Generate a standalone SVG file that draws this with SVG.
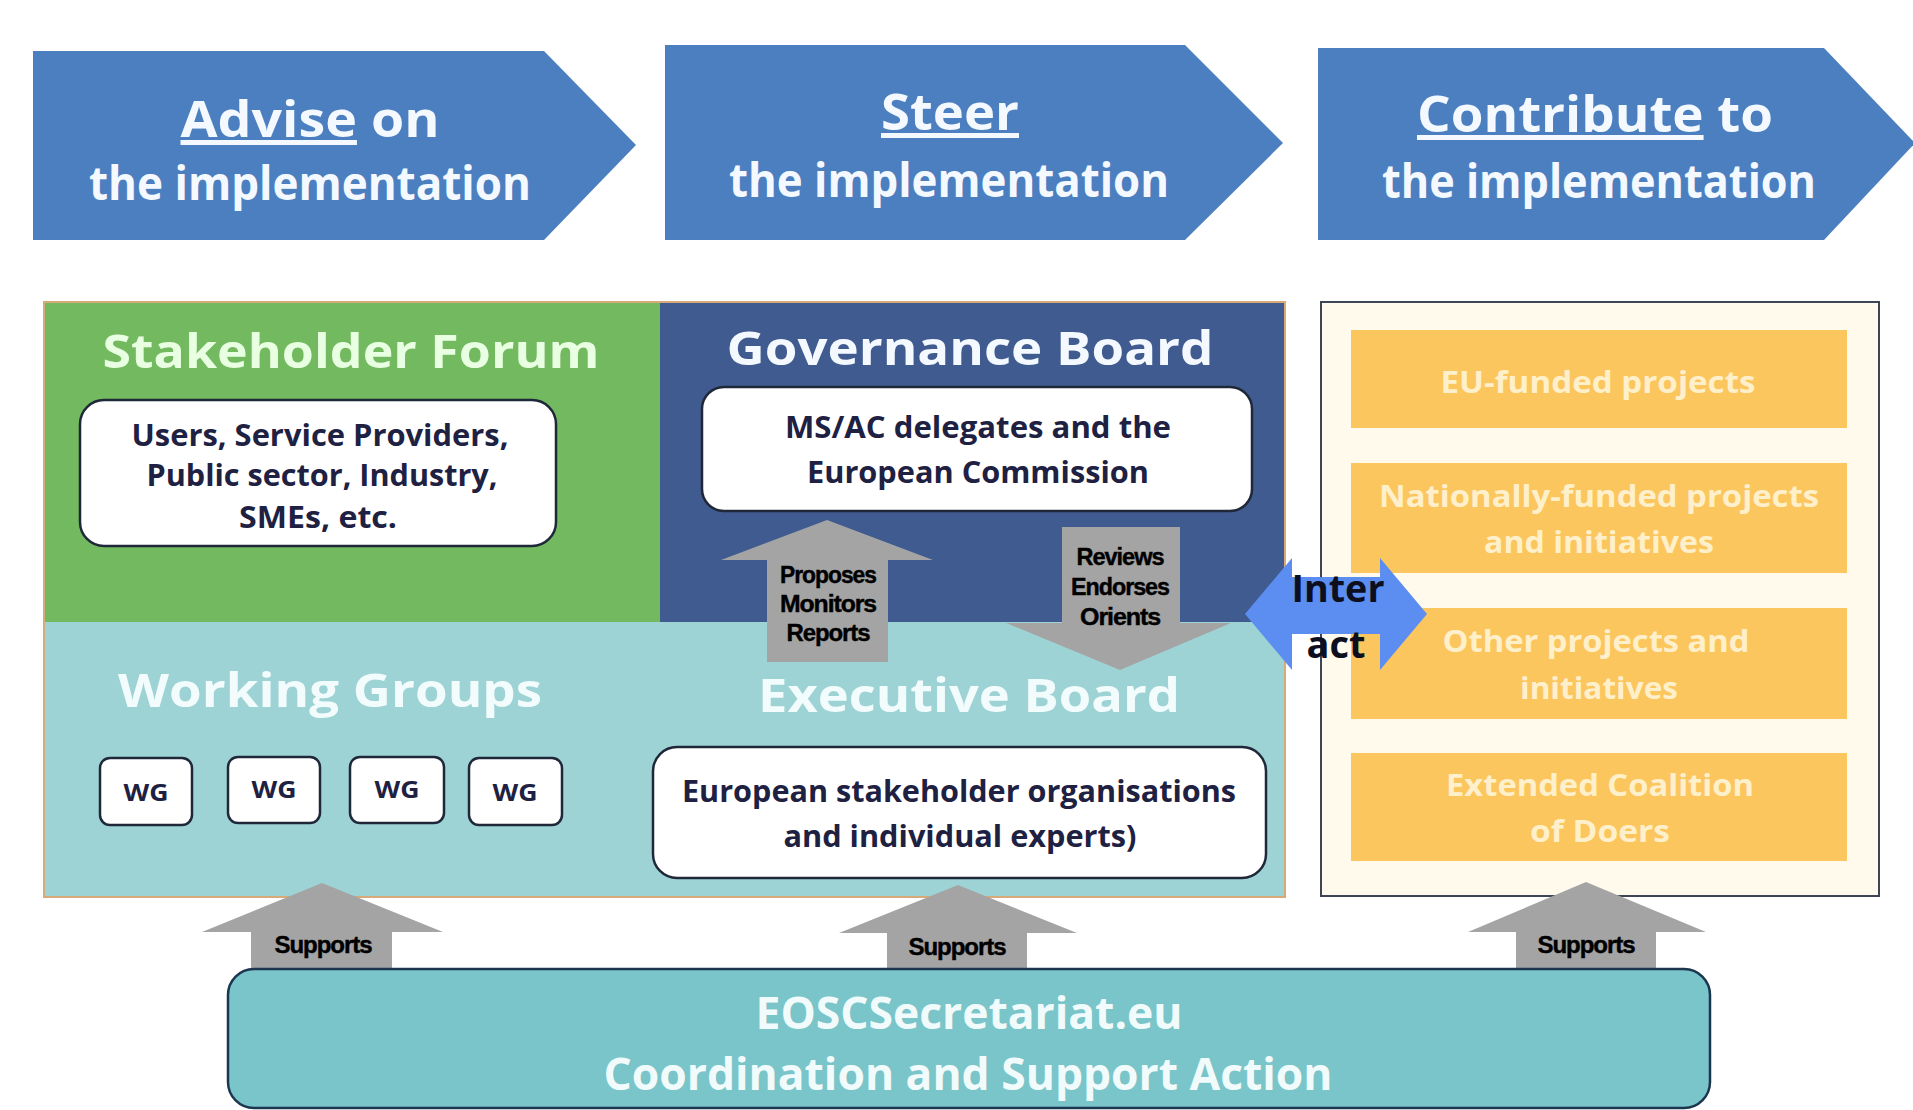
<svg xmlns="http://www.w3.org/2000/svg" width="1913" height="1110" viewBox="0 0 1913 1110">
<style>
  text { font-family: "Open Sans", "Liberation Sans", sans-serif; font-weight: 700; text-anchor: middle; }
  .chev { fill: #4c7fbf; }
  .chevtxt { fill: #f3f9ff; }
  .big { font-size: 47px; }
  .mid { font-size: 31px; }
  .dark { fill: #1e2142; }
  .wbox { fill: #ffffff; stroke: #1f2838; stroke-width: 2.5; }
  .orange { fill: #fcc65f; }
  .otxt { fill: #fff0cc; font-size: 30px; }
  .gray { fill: #a4a4a4; }
  .lbl { font-family: "Liberation Sans", "DejaVu Sans", sans-serif; font-size: 23px; fill: #000000; letter-spacing: -1px; stroke: #000000; stroke-width: 0.4; }
  .u { text-decoration: underline; }
</style>
<rect x="0" y="0" width="1913" height="1110" fill="#ffffff"/>

<g id="advise">
  <polygon class="chev" points="33,51 544,51 636,145 544,240 33,240"/>
  <text class="chevtxt" x="310" y="137" font-size="50" textLength="259" lengthAdjust="spacingAndGlyphs"><tspan class="u">Advise</tspan> on</text>
  <text class="chevtxt" x="310" y="200" font-size="46" textLength="442" lengthAdjust="spacingAndGlyphs">the implementation</text>
</g>
<g id="steer">
  <polygon class="chev" points="665,45 1185,45 1283,143 1185,240 665,240"/>
  <text class="chevtxt" x="950" y="130" font-size="50" textLength="138" lengthAdjust="spacingAndGlyphs"><tspan class="u">Steer</tspan></text>
  <text class="chevtxt" x="949" y="197" font-size="46" textLength="440" lengthAdjust="spacingAndGlyphs">the implementation</text>
</g>
<g id="contribute">
  <polygon class="chev" points="1318,48 1824,48 1915,143 1824,240 1318,240"/>
  <text class="chevtxt" x="1595" y="132" font-size="50" textLength="356" lengthAdjust="spacingAndGlyphs"><tspan class="u">Contribute</tspan> to</text>
  <text class="chevtxt" x="1599" y="198" font-size="46" textLength="434" lengthAdjust="spacingAndGlyphs">the implementation</text>
</g>

<g id="stakeholder-forum">
  <rect x="45" y="302" width="615" height="320" fill="#73b960"/>
  <text class="big" x="351" y="368" fill="#e9ffe2" textLength="497" lengthAdjust="spacingAndGlyphs">Stakeholder Forum</text>
  <rect class="wbox" x="80" y="400" width="476" height="146" rx="24"/>
  <text class="mid dark" x="320" y="446" textLength="377" lengthAdjust="spacingAndGlyphs">Users, Service Providers,</text>
  <text class="mid dark" x="322" y="486" textLength="351" lengthAdjust="spacingAndGlyphs">Public sector, Industry,</text>
  <text class="mid dark" x="318" y="528" textLength="158" lengthAdjust="spacingAndGlyphs">SMEs, etc.</text>
</g>

<g id="governance-board">
  <rect x="660" y="302" width="624" height="321" fill="#405b8f"/>
  <text class="big" x="970" y="365" fill="#f4f8ff" textLength="487" lengthAdjust="spacingAndGlyphs">Governance Board</text>
  <rect class="wbox" x="702" y="387" width="550" height="124" rx="22"/>
  <text class="mid dark" x="978" y="438" textLength="386" lengthAdjust="spacingAndGlyphs">MS/AC delegates and the</text>
  <text class="mid dark" x="978" y="483" textLength="342" lengthAdjust="spacingAndGlyphs">European Commission</text>
</g>

<g id="lower-band">
  <rect x="45" y="622" width="1239" height="274" fill="#9ed3d6"/>
</g>
<rect x="44" y="302" width="1241" height="595" fill="none" stroke="#d9aa78" stroke-width="2"/>

<g id="working-groups">
  <text class="big" x="330" y="707" fill="#f3fcfc" textLength="424" lengthAdjust="spacingAndGlyphs">Working Groups</text>
  <g id="wg1"><rect class="wbox" x="100" y="758" width="92" height="67" rx="10"/><text class="dark" x="146" y="801" font-size="24" textLength="45" lengthAdjust="spacingAndGlyphs">WG</text></g>
  <g id="wg2"><rect class="wbox" x="228" y="757" width="92" height="66" rx="10"/><text class="dark" x="274" y="798" font-size="24" textLength="45" lengthAdjust="spacingAndGlyphs">WG</text></g>
  <g id="wg3"><rect class="wbox" x="350" y="757" width="94" height="66" rx="10"/><text class="dark" x="397" y="798" font-size="24" textLength="45" lengthAdjust="spacingAndGlyphs">WG</text></g>
  <g id="wg4"><rect class="wbox" x="469" y="758" width="93" height="67" rx="10"/><text class="dark" x="515" y="801" font-size="24" textLength="45" lengthAdjust="spacingAndGlyphs">WG</text></g>
</g>

<g id="executive-board">
  <text class="big" x="969" y="712" fill="#f3fcfc" textLength="422" lengthAdjust="spacingAndGlyphs">Executive Board</text>
  <rect class="wbox" x="653" y="747" width="613" height="131" rx="24"/>
  <text class="mid dark" x="959" y="802" textLength="554" lengthAdjust="spacingAndGlyphs">European stakeholder organisations</text>
  <text class="mid dark" x="960" y="847" textLength="353" lengthAdjust="spacingAndGlyphs">and individual experts)</text>
</g>

<g id="contributors">
  <rect x="1321" y="302" width="558" height="594" fill="#fffaeb" stroke="#3d4556" stroke-width="2"/>
  <rect class="orange" x="1351" y="330" width="496" height="98"/>
  <text class="otxt" x="1598" y="393" textLength="315" lengthAdjust="spacingAndGlyphs">EU-funded projects</text>
  <rect class="orange" x="1351" y="463" width="496" height="110"/>
  <text class="otxt" x="1599" y="507" textLength="440" lengthAdjust="spacingAndGlyphs">Nationally-funded projects</text>
  <text class="otxt" x="1599" y="553" textLength="230" lengthAdjust="spacingAndGlyphs">and initiatives</text>
  <rect class="orange" x="1351" y="608" width="496" height="111"/>
  <text class="otxt" x="1596" y="652" textLength="307" lengthAdjust="spacingAndGlyphs">Other projects and</text>
  <text class="otxt" x="1599" y="699" textLength="158" lengthAdjust="spacingAndGlyphs">initiatives</text>
  <rect class="orange" x="1351" y="753" width="496" height="108"/>
  <text class="otxt" x="1600" y="796" textLength="308" lengthAdjust="spacingAndGlyphs">Extended Coalition</text>
  <text class="otxt" x="1600" y="842" textLength="140" lengthAdjust="spacingAndGlyphs">of Doers</text>
</g>

<g id="connectors">
  <g id="proposes">
    <polygon class="gray" points="827,520 933,560 888,560 888,662 767,662 767,560 721,560"/>
    <text class="lbl" x="828" y="583" textLength="96" lengthAdjust="spacingAndGlyphs">Proposes</text>
    <text class="lbl" x="828" y="612" textLength="96" lengthAdjust="spacingAndGlyphs">Monitors</text>
    <text class="lbl" x="828" y="641" textLength="83" lengthAdjust="spacingAndGlyphs">Reports</text>
  </g>
  <g id="reviews">
    <polygon class="gray" points="1062,527 1180,527 1180,623 1231,623 1120,670 1006,623 1062,623"/>
    <text class="lbl" x="1120" y="565" textLength="87" lengthAdjust="spacingAndGlyphs">Reviews</text>
    <text class="lbl" x="1120" y="595" textLength="98" lengthAdjust="spacingAndGlyphs">Endorses</text>
    <text class="lbl" x="1120" y="625" textLength="80" lengthAdjust="spacingAndGlyphs">Orients</text>
  </g>
  <g id="interact">
    <polygon fill="#5b8ef0" points="1245,614 1292,558 1292,577 1380,577 1380,558 1427,614 1380,670 1380,634 1292,634 1292,670"/>
    <text x="1338" y="602" font-size="38" fill="#0d0f1e" textLength="93" lengthAdjust="spacingAndGlyphs">Inter</text>
    <text x="1336" y="658" font-size="38" fill="#0d0f1e" textLength="59" lengthAdjust="spacingAndGlyphs">act</text>
  </g>
  <g id="supports1">
    <polygon class="gray" points="322,883 443,932 392,932 392,970 251,970 251,932 202,932"/>
    <text class="lbl" x="323" y="953" textLength="97" lengthAdjust="spacingAndGlyphs">Supports</text>
  </g>
  <g id="supports2">
    <polygon class="gray" points="958,885 1077,933 1027,933 1027,970 887,970 887,933 839,933"/>
    <text class="lbl" x="957" y="955" textLength="97" lengthAdjust="spacingAndGlyphs">Supports</text>
  </g>
  <g id="supports3">
    <polygon class="gray" points="1586,882 1706,932 1656,932 1656,970 1516,970 1516,932 1468,932"/>
    <text class="lbl" x="1586" y="953" textLength="97" lengthAdjust="spacingAndGlyphs">Supports</text>
  </g>
</g>

<g id="eosc-secretariat">
  <rect x="228" y="969" width="1482" height="139" rx="26" fill="#79c5c9" stroke="#1c3650" stroke-width="2.5"/>
  <text x="969" y="1029" font-size="44" fill="#f2fbfb" textLength="427" lengthAdjust="spacingAndGlyphs">EOSCSecretariat.eu</text>
  <text x="968" y="1090" font-size="44" fill="#f2fbfb" textLength="729" lengthAdjust="spacingAndGlyphs">Coordination and Support Action</text>
</g>
</svg>
